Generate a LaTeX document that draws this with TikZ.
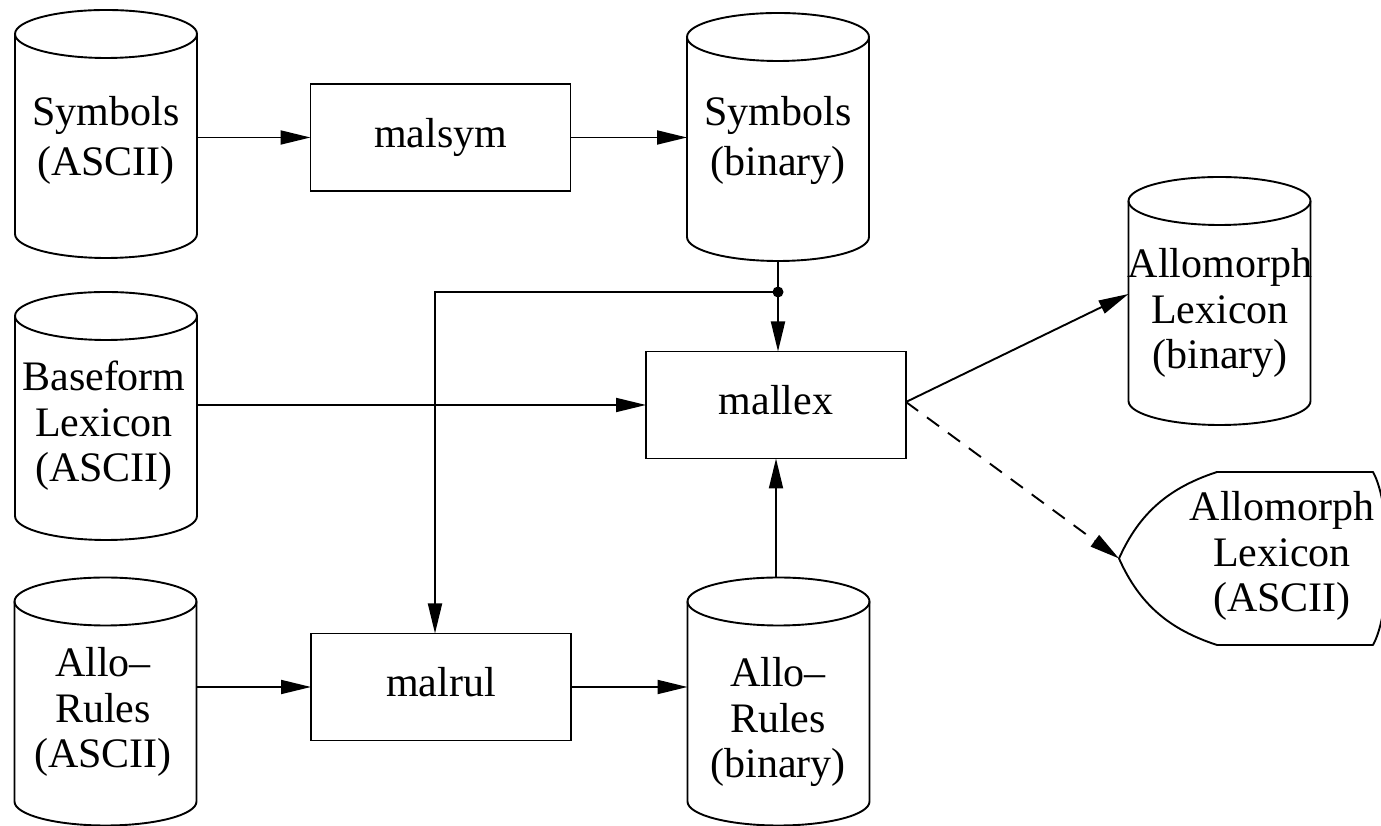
\documentclass[tikz,border=0pt]{standalone}
\usepackage{fontspec}
\setmainfont{Liberation Serif}
\usetikzlibrary{arrows.meta,calc}

% upright storage drum drawn around an invisible box node
\newcommand\drum[1]{%
  \draw[wire] ([yshift=-24pt]#1.north) ellipse[x radius=91pt, y radius=24pt];
  \draw[wire] ([yshift=-24pt]#1.north west) -- ([yshift=24pt]#1.south west)
     arc[start angle=180, end angle=360, x radius=91pt, y radius=24pt]
     -- ([yshift=-24pt]#1.north east);
}

\begin{document}
\begin{tikzpicture}[x=1pt,y=1pt,
  every node/.style={inner sep=0pt, outer sep=0pt},
  wire/.style={line width=1.9pt},
  flow/.style={wire, -{Triangle[length=30pt,width=14pt]}},
  dashflow/.style={flow, dash pattern=on 15pt off 11pt},
  proc/.style={draw, line width=1.9pt, minimum width=260pt, minimum height=107pt,
    font=\fontsize{42}{48}\selectfont, text height=29pt, text depth=9.2pt},
  store/.style={minimum width=182pt, minimum height=248pt},
  twoline/.style={align=center, font=\fontsize{42}{50}\selectfont},
  threeline/.style={align=center, font=\fontsize{42}{45.5}\selectfont},
]
\path[use as bounding box, fill=white] (0,0) rectangle (1381,826);

% data stores
\node[store] (symA) at (106,692) {};
\node[twoline] (symAt) at (106,686) {Symbols\\(ASCII)};
\node[store] (symB) at (778,689) {};
\node[twoline] (symBt) at (778,686) {Symbols\\(binary)};
\node[store] (base) at (106,410) {};
\node[threeline] (baset) at (104,400) {Baseform\\Lexicon\\(ASCII)};
\node[store] (rulA) at (105.5,124.5) {};
\node[threeline] (rulAt) at (103,114) {Allo–\\Rules\\(ASCII)};
\node[store] (alB) at (1219.5,525) {};
\node[threeline] (alBt) at (1220,513) {Allomorph\\Lexicon\\(binary)};
\node[store] (rulB) at (778.5,124.5) {};
\node[threeline] (rulBt) at (778,104) {Allo–\\Rules\\(binary)};
\drum{symA}\drum{symB}\drum{base}\drum{rulA}\drum{alB}\drum{rulB}

% programs
\node[proc] (malsym) at (440.5,688.5) {malsym};
\node[proc] (mallex) at (776,421) {mallex};
\node[proc] (malrul) at (441,139) {malrul};

% display output
\node[minimum width=254pt, minimum height=173pt] (alA) at (1246,267.5) {};
\node[threeline] (alAt) at (1282,270) {Allomorph\\Lexicon\\(ASCII)};
\draw[wire, line join=round, line cap=round] (alA.west)
  .. controls (1139.5,313.5) and (1169.5,338.5) .. (1217,354) -- (1373,354)
  .. controls (1392,320) and (1392,215) .. (1373,181) -- (1217,181)
  .. controls (1169.5,196.5) and (1139.5,221.5) .. (alA.west);

% connectors
\draw[flow] (symA.east |- malsym.west) -- (malsym.west);
\draw[flow] (malsym.east) -- (malsym.east -| symB.west);
\coordinate (j) at (778,534);
\draw[wire] (symB.south) -- (j);
\draw[flow] (j) -- (j |- mallex.north);
\draw[flow] (j) -| ([xshift=-6pt]malrul.north);
\fill (j) circle[radius=5.5pt];
\draw[flow] (base.east |- mallex.west) -- (mallex.west);
\draw[flow] (rulA.east |- malrul.west) -- (malrul.west);
\draw[flow] (malrul.east) -- (malrul.east -| rulB.west);
\draw[flow] (rulB.north -| mallex.south) -- (mallex.south);
\draw[flow] ([yshift=3pt]mallex.east) -- ([yshift=7pt]alB.west);
\draw[dashflow] ([yshift=3pt]mallex.east) -- (alA.west);
\end{tikzpicture}
\end{document}
